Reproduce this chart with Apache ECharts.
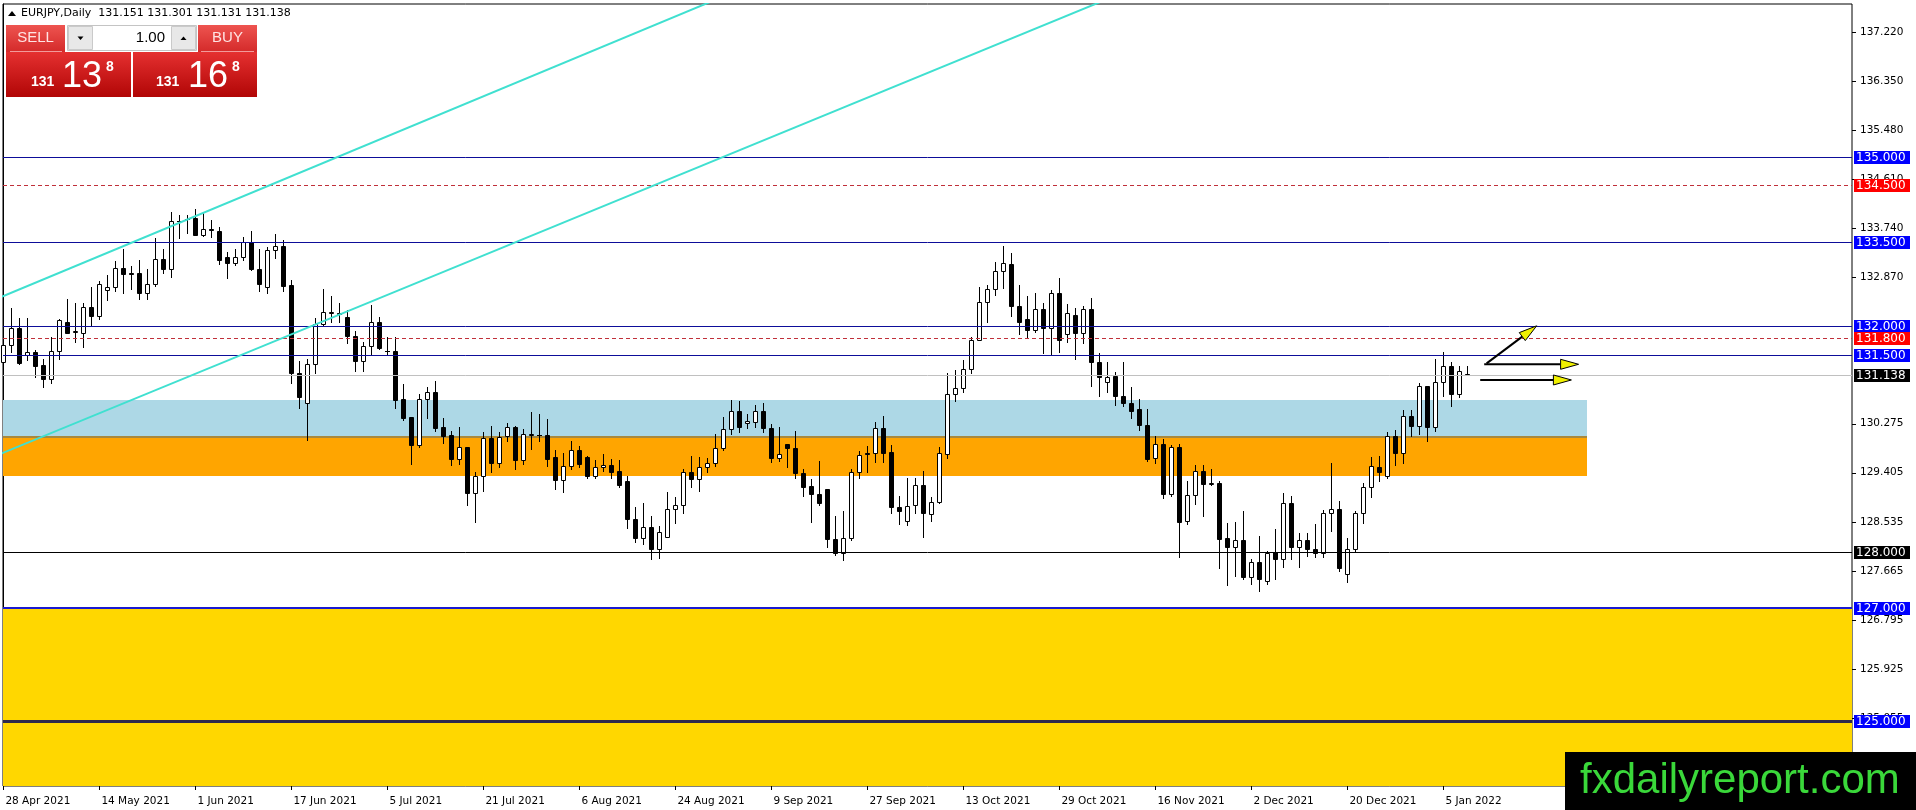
<!DOCTYPE html>
<html>
<head>
<meta charset="utf-8">
<title>EURJPY Daily</title>
<script src="https://cdn.jsdelivr.net/npm/echarts@6/dist/echarts.min.js"></script>
<style>
html,body{margin:0;padding:0;background:#fff;}
#chart{width:1916px;height:810px;}
</style>
</head>
<body>
<div id="chart"></div>
<script>
// bar index of each date label (one bar per weekday, 28 Apr 2021 = 0)
var dateTicks = [0, 12, 24, 36, 48, 60, 72, 84, 96, 108, 120, 132, 144, 156, 168, 180];
var dateLabels = ['28 Apr 2021', '14 May 2021', '1 Jun 2021', '17 Jun 2021', '5 Jul 2021', '21 Jul 2021',
  '6 Aug 2021', '24 Aug 2021', '9 Sep 2021', '27 Sep 2021', '13 Oct 2021', '29 Oct 2021',
  '16 Nov 2021', '2 Dec 2021', '20 Dec 2021', '5 Jan 2022'];
var priceTicks = [137.22, 136.35, 135.48, 134.61, 133.74, 132.87, 130.275, 129.405, 128.535,
  127.665, 126.795, 125.925, 125.055];

var opens = [131.36,131.67,131.97,131.50,131.54,131.32,131.06,131.57,132.08,131.90,
131.89,132.34,132.19,132.65,132.69,133.03,132.94,132.94,132.59,132.75,
133.19,133.02,133.86,133.90,133.92,133.62,133.72,133.70,133.23,133.12,
133.23,133.49,133.01,132.69,133.35,133.42,132.73,131.17,130.65,131.34,
132.05,132.24,132.23,132.16,131.83,131.39,131.66,132.07,131.57,131.57,
130.72,130.39,129.90,130.71,130.83,130.21,130.07,129.65,129.86,129.05,
129.35,130.02,129.57,130.05,130.21,129.63,130.08,130.08,130.07,129.68,
129.27,129.53,129.80,129.69,129.34,129.50,129.54,129.44,129.25,128.58,
128.24,128.45,128.05,128.27,128.76,128.83,129.41,129.29,129.50,129.57,
129.84,130.18,130.50,130.28,130.31,130.50,130.19,129.66,129.92,129.84,
129.40,129.17,129.03,129.11,128.23,127.99,128.24,129.42,129.76,129.75,
130.19,129.77,128.79,128.55,128.83,129.18,128.67,128.88,129.73,130.81,
130.90,131.24,131.76,132.44,132.66,132.98,133.10,132.37,132.13,131.93,
132.30,131.98,132.60,131.86,132.21,131.88,132.31,131.36,131.01,131.12,
130.77,130.65,130.53,130.26,129.66,129.91,129.02,129.87,128.55,129.01,
129.44,129.20,129.23,128.25,128.09,128.22,127.56,127.82,127.49,128.00,
127.87,128.86,128.09,128.21,128.06,127.99,128.70,128.76,127.61,128.05,
128.69,129.15,129.51,129.34,130.06,129.76,130.41,130.24,130.94,130.21,
131.02,131.30,130.81,131.151];

var highs = [131.80,132.32,132.14,132.14,131.59,131.42,131.81,132.13,132.48,132.42,
132.41,132.69,132.81,132.91,133.16,133.37,133.07,133.17,133.01,133.56,
133.37,134.02,133.98,133.98,134.09,134.03,133.89,133.76,133.32,133.38,
133.59,133.70,133.38,133.40,133.64,133.54,132.83,131.39,131.43,132.14,
132.66,132.54,132.41,132.29,131.92,131.72,132.38,132.16,131.81,131.81,
130.98,130.40,130.81,130.93,131.03,130.37,130.15,130.21,129.87,129.41,
130.12,130.23,130.13,130.29,130.23,130.18,130.49,130.45,130.35,129.81,
129.76,129.96,129.88,129.70,129.63,129.74,129.64,129.63,129.34,128.80,
128.87,128.64,128.46,129.07,128.97,129.47,129.70,129.68,129.66,130.10,
130.39,130.70,130.68,130.45,130.61,130.64,130.27,130.22,129.92,130.15,
129.47,129.30,129.61,129.11,128.64,128.72,129.48,129.79,129.88,130.30,
130.41,129.90,128.99,129.31,129.32,129.44,128.97,129.86,131.17,131.23,
131.40,131.82,132.70,132.73,133.14,133.43,133.31,132.73,132.54,132.60,
132.41,132.65,132.85,132.39,132.32,132.37,132.51,131.52,131.36,131.20,
131.36,130.93,130.71,130.54,130.05,130.00,129.89,129.91,129.26,129.54,
129.54,129.47,129.25,128.51,128.54,128.73,127.87,128.28,128.02,128.40,
129.05,128.99,128.33,128.34,128.50,128.74,129.58,128.91,128.24,128.72,
129.22,129.69,129.70,130.12,130.16,130.51,130.51,131.00,130.95,131.42,
131.55,131.37,131.30,131.301];

var lows = [131.33,131.55,131.33,131.40,131.10,130.93,131.00,131.43,131.88,131.73,
131.63,132.01,132.13,132.47,132.63,132.60,132.67,132.49,132.48,132.72,
132.95,132.88,133.56,133.65,133.62,133.60,133.58,133.11,132.85,133.09,
133.17,133.00,132.62,132.60,133.22,132.63,130.99,130.56,129.99,131.17,
132.01,132.07,132.08,131.71,131.21,131.21,131.49,131.60,131.51,130.56,
130.34,129.56,129.86,130.37,130.15,129.94,129.54,129.56,128.83,128.54,
129.09,129.42,129.51,129.97,129.47,129.56,129.83,129.96,129.53,129.11,
129.07,129.47,129.51,129.32,129.32,129.44,129.32,129.15,128.43,128.18,
128.15,127.87,127.89,128.26,128.52,128.70,129.16,129.09,129.42,129.53,
129.81,130.10,130.12,130.19,130.22,130.12,129.60,129.62,129.51,129.31,
129.00,128.54,128.83,128.08,127.94,127.85,128.22,129.32,129.41,129.60,
129.60,128.70,128.49,128.48,128.70,128.27,128.55,128.86,129.67,130.68,
130.83,131.18,131.75,132.08,132.56,132.68,132.19,131.86,131.81,131.90,
131.52,131.49,131.54,131.73,131.42,131.70,130.95,130.77,130.83,130.61,
130.58,130.38,130.16,129.62,129.58,128.96,129.00,127.92,128.49,128.85,
128.63,129.19,127.72,127.42,127.57,127.52,127.43,127.31,127.43,127.52,
127.73,127.87,127.74,127.93,127.92,127.92,128.38,127.67,127.46,128.02,
128.51,128.98,129.25,129.31,129.55,129.58,130.06,130.09,129.96,130.15,
130.77,130.58,130.75,131.131];

var closes = [131.67,131.97,131.35,131.55,131.30,131.06,131.57,132.11,131.89,131.91,
132.34,132.19,132.75,132.69,133.03,132.92,132.93,132.59,132.75,133.19,
133.02,133.86,133.87,133.91,133.62,133.72,133.71,133.17,133.12,133.23,
133.49,133.01,132.76,133.35,133.42,132.72,131.17,130.74,131.34,132.05,
132.25,132.25,132.22,131.83,131.39,131.66,132.07,131.61,131.56,130.69,
130.37,129.90,130.71,130.83,130.19,130.06,129.65,129.87,129.05,129.35,
130.02,129.57,130.03,130.21,129.63,130.09,130.09,130.07,129.65,129.27,
129.53,129.80,129.56,129.34,129.50,129.55,129.42,129.19,128.58,128.24,
128.45,128.05,128.36,128.76,128.83,129.41,129.29,129.50,129.57,129.84,
130.18,130.50,130.22,130.32,130.50,130.19,129.66,129.74,129.84,129.40,
129.15,129.02,128.87,128.23,127.99,128.24,129.42,129.72,129.73,130.19,
129.76,128.79,128.73,128.82,129.18,128.69,128.88,129.75,130.81,130.90,
131.24,131.76,132.44,132.66,132.98,133.12,132.37,132.08,131.93,132.30,
131.98,132.60,131.75,132.23,131.88,132.31,131.36,131.11,131.11,130.77,
130.65,130.50,130.26,129.65,129.91,129.02,129.87,128.54,129.01,129.44,
129.20,129.23,128.23,128.09,128.22,127.56,127.82,127.52,127.98,127.87,
128.86,128.09,128.22,128.06,127.99,128.70,128.76,127.71,128.05,128.69,
129.15,129.52,129.41,130.06,129.76,130.41,130.24,130.94,130.21,131.02,
131.30,130.81,131.21,131.138];

// horizontal price levels
var levelPrices = [135.0, 134.5, 133.5, 132.0, 131.8, 131.5, 131.138, 128.0, 127.0, 125.0];
var levelTexts = ['135.000', '134.500', '133.500', '132.000', '131.800', '131.500', '131.138', '128.000', '127.000', '125.000'];
var levelColors = ['#0d0d99', '#c0303a', '#0d0d99', '#0d0d99', '#c0303a', '#0d0d99', '#c0c0c0', '#000000', '#1a1ad0', '#2e2a4c'];
var levelWidths = [1, 1, 1, 1, 1, 1, 1, 1, 2, 3];
var levelDashed = [false, true, false, false, true, false, false, false, false, false];
var levelBoxColors = ['#0000ff', '#ff0000', '#0000ff', '#0000ff', '#ff0000', '#0000ff', '#000000', '#000000', '#0000ff', '#0000ff'];

// filled rectangles (bar index / price)
var zoneX0 = [-5, -5, -5];
var zoneX1 = [197.9, 197.9, 240];
var zoneTop = [130.695, 130.03, 127.0];
var zoneBottom = [130.03, 129.354, 120.0];
var zoneColors = ['#add8e6', '#ffa500', '#ffd700'];
var zoneEdge = [null, '#a8893e', null];

// channel lines
var trendStart = [[-0.5, 132.51], [-0.5, 129.732]];
var trendEnd = [[100, 138.44], [150, 138.503]];

// arrows
var arrowFrom = [[185.4, 131.345], [185.1, 131.328], [184.6, 131.05]];
var arrowTo = [[191.66, 132.01], [196.9, 131.328], [196.0, 131.05]];

var FONT = '"DejaVu Sans", Tahoma, sans-serif';

var candleData = opens.map(function (o, i) {
  return [i, o, closes[i], lows[i], highs[i]];
});

function renderCandle(params, api) {
  var x = api.value(0);
  var pO = api.coord([x, api.value(1)]);
  var pC = api.coord([x, api.value(2)]);
  var pL = api.coord([x, api.value(3)]);
  var pH = api.coord([x, api.value(4)]);
  var cx = Math.round(pO[0]);
  var up = api.value(2) >= api.value(1);
  var top = Math.round(Math.min(pO[1], pC[1]));
  var bot = Math.round(Math.max(pO[1], pC[1]));
  var kids = [{
    type: 'line',
    shape: { x1: cx + 0.5, y1: Math.round(pH[1]), x2: cx + 0.5, y2: Math.round(pL[1]) + 1 },
    style: { stroke: '#000', lineWidth: 1 }
  }];
  if (bot - top < 1) {
    kids.push({
      type: 'line',
      shape: { x1: cx - 2, y1: top + 0.5, x2: cx + 3, y2: top + 0.5 },
      style: { stroke: '#000', lineWidth: 1 }
    });
  } else {
    kids.push({
      type: 'rect',
      shape: { x: cx - 1.5, y: top + 0.5, width: 4, height: bot - top },
      style: { fill: up ? '#fff' : '#000', stroke: '#000', lineWidth: 1 }
    });
  }
  return { type: 'group', children: kids };
}

function renderZone(params, api) {
  var i = params.dataIndex;
  var cs = params.coordSys;
  var p0 = api.coord([api.value(0), api.value(2)]);
  var p1 = api.coord([api.value(1), api.value(3)]);
  var x0 = Math.max(cs.x, Math.min(p0[0], p1[0]));
  var x1 = Math.min(cs.x + cs.width, Math.max(p0[0], p1[0]));
  var y0 = Math.max(cs.y, Math.min(p0[1], p1[1]));
  var y1 = Math.min(cs.y + cs.height, Math.max(p0[1], p1[1]));
  var kids = [{
    type: 'rect',
    shape: { x: Math.round(x0), y: Math.round(y0), width: Math.round(x1) - Math.round(x0), height: Math.round(y1) - Math.round(y0) },
    style: { fill: zoneColors[i] }
  }];
  if (zoneEdge[i]) {
    kids.push({
      type: 'line',
      shape: { x1: Math.round(x0), y1: Math.round(y0), x2: Math.round(x1), y2: Math.round(y0) },
      style: { stroke: zoneEdge[i], lineWidth: 2 }
    });
  }
  return { type: 'group', children: kids };
}

function renderLevel(params, api) {
  var i = params.dataIndex;
  var cs = params.coordSys;
  var y = Math.round(api.coord([0, api.value(0)])[1]);
  var w = levelWidths[i];
  var yy = (w % 2) ? y + 0.5 : y;
  var right = cs.x + cs.width;
  return {
    type: 'group',
    children: [{
      type: 'line',
      shape: { x1: cs.x, y1: yy, x2: right, y2: yy },
      style: { stroke: levelColors[i], lineWidth: w, lineDash: levelDashed[i] ? [4, 3] : null }
    }, {
      type: 'rect',
      shape: { x: right + 2, y: y - 6, width: 56, height: 13 },
      style: { fill: levelBoxColors[i] }
    }, {
      type: 'text',
      style: {
        text: levelTexts[i], x: right + 4, y: y + 0.5, fill: '#fff', font: '12px ' + FONT,
        align: 'left', verticalAlign: 'middle', textAlign: 'left', textVerticalAlign: 'middle'
      }
    }]
  };
}

// short outward tick marks on the price scale
function renderPriceTick(params, api) {
  var cs = params.coordSys;
  var y = Math.round(api.coord([0, api.value(0)])[1]) + 0.5;
  var right = cs.x + cs.width;
  return {
    type: 'line',
    shape: { x1: right, y1: y, x2: right + 4, y2: y },
    style: { stroke: '#000', lineWidth: 1 }
  };
}

// short outward tick marks on the time scale
function renderDateTick(params, api) {
  var cs = params.coordSys;
  var x = Math.round(api.coord([api.value(0), 0])[0]) + 0.5;
  var bottom = cs.y + cs.height;
  return {
    type: 'line',
    shape: { x1: x, y1: bottom, x2: x, y2: bottom + 4 },
    style: { stroke: '#000', lineWidth: 1 }
  };
}

function renderArrow(params, api) {
  var p0 = api.coord([api.value(0), api.value(1)]);
  var p1 = api.coord([api.value(2), api.value(3)]);
  var dx = p1[0] - p0[0], dy = p1[1] - p0[1];
  var len = Math.sqrt(dx * dx + dy * dy);
  var ux = dx / len, uy = dy / len;
  var bx = p1[0] - ux * 18, by = p1[1] - uy * 18;
  var nx = -uy * 5, ny = ux * 5;
  return {
    type: 'group',
    children: [{
      type: 'line',
      shape: { x1: p0[0], y1: p0[1], x2: bx, y2: by },
      style: { stroke: '#000', lineWidth: 2 }
    }, {
      type: 'polygon',
      shape: { points: [[p1[0], p1[1]], [bx + nx, by + ny], [bx - nx, by - ny]] },
      style: { fill: '#f0f000', stroke: '#000', lineWidth: 1 }
    }]
  };
}

function txt(text, x, y, font, fill, align) {
  return {
    type: 'text', z: 100,
    style: {
      text: text, x: x, y: y, font: font, fill: fill,
      align: align || 'left', verticalAlign: 'middle',
      textAlign: align || 'left', textVerticalAlign: 'middle'
    }
  };
}

function grad(c0, c1) {
  return new echarts.graphic.LinearGradient(0, 0, 0, 1, [
    { offset: 0, color: c0 }, { offset: 1, color: c1 }
  ]);
}

var PANEL = '"Liberation Sans", Arial, sans-serif';

var graphics = [
  { type: 'polygon', z: 100, shape: { points: [[8, 16], [12, 11], [16, 16]] }, style: { fill: '#000' } },
  txt('EURJPY,Daily  131.151 131.301 131.131 131.138', 21, 13.5, '11px ' + FONT, '#000'),
  // sell / buy buttons
  { type: 'rect', z: 100, shape: { x: 6, y: 25, width: 59, height: 27 }, style: { fill: grad('#ee5450', '#d42a2a') } },
  { type: 'rect', z: 100, shape: { x: 198, y: 25, width: 59, height: 27 }, style: { fill: grad('#ee5450', '#d42a2a') } },
  { type: 'line', z: 101, shape: { x1: 10, y1: 51.5, x2: 62, y2: 51.5 }, style: { stroke: '#f29a9a', lineWidth: 1 } },
  { type: 'line', z: 101, shape: { x1: 201, y1: 51.5, x2: 254, y2: 51.5 }, style: { stroke: '#f29a9a', lineWidth: 1 } },
  txt('SELL', 35.5, 38, '15px ' + PANEL, '#ffe4e4', 'center'),
  txt('BUY', 227.5, 38, '15px ' + PANEL, '#ffe4e4', 'center'),
  // lot field
  { type: 'rect', z: 100, shape: { x: 67.5, y: 25.5, width: 129, height: 25 }, style: { fill: '#fff', stroke: '#c4c4c4', lineWidth: 1 } },
  { type: 'rect', z: 101, shape: { x: 68.5, y: 26.5, width: 24, height: 23 }, style: { fill: '#e8e8e8', stroke: '#cacaca', lineWidth: 1 } },
  { type: 'rect', z: 101, shape: { x: 171.5, y: 26.5, width: 24, height: 23 }, style: { fill: '#e8e8e8', stroke: '#cacaca', lineWidth: 1 } },
  { type: 'polygon', z: 102, shape: { points: [[77.5, 36.5], [83.5, 36.5], [80.5, 40]] }, style: { fill: '#000' } },
  { type: 'polygon', z: 102, shape: { points: [[180.5, 40], [186.5, 40], [183.5, 36.5]] }, style: { fill: '#000' } },
  txt('1.00', 165, 38, '15px ' + PANEL, '#000', 'right'),
  // quote boxes
  { type: 'rect', z: 100, shape: { x: 6, y: 52, width: 125, height: 45 }, style: { fill: grad('#e53030', '#b10606') } },
  { type: 'rect', z: 100, shape: { x: 133, y: 52, width: 124, height: 45 }, style: { fill: grad('#e53030', '#b10606') } },
  txt('131', 31, 82, 'bold 14px ' + PANEL, '#fff'),
  txt('13', 62, 77, '36px ' + PANEL, '#fff'),
  txt('8', 106, 67, 'bold 14px ' + PANEL, '#fff'),
  txt('131', 156, 82, 'bold 14px ' + PANEL, '#fff'),
  txt('16', 188, 77, '36px ' + PANEL, '#fff'),
  txt('8', 232, 67, 'bold 14px ' + PANEL, '#fff'),
  // watermark
  { type: 'rect', z: 100, shape: { x: 1565, y: 752, width: 351, height: 58 }, style: { fill: '#000' } },
  txt('fxdailyreport.com', 1580, 781, '42px ' + PANEL, '#3ad83a')
];

var chart = echarts.init(document.getElementById('chart'));

chart.setOption({
  animation: false,
  backgroundColor: '#fff',
  grid: { left: 3, right: 64, top: 4, bottom: 24, show: true, borderColor: '#000', borderWidth: 1, backgroundColor: '#fff' },
  xAxis: {
    type: 'value', min: -0.05, max: 231.075,
    axisLine: { show: false },
    splitLine: { show: false },
    axisTick: { show: false },
    axisLabel: {
      customValues: dateTicks,
      formatter: function (v) { var k = dateTicks.indexOf(Math.round(v)); return k >= 0 ? dateLabels[k] : ''; },
      align: 'left', padding: [4, 0, 0, 2], margin: 6,
      color: '#000', fontFamily: FONT, fontSize: 10.5
    }
  },
  yAxis: {
    type: 'value', position: 'right', min: 123.851, max: 137.716,
    axisLine: { show: true, lineStyle: { color: '#000' } },
    splitLine: { show: false },
    axisTick: { show: false },
    axisLabel: {
      customValues: priceTicks,
      formatter: function (v) { return v.toFixed(3); },
      margin: 8, color: '#000', fontFamily: FONT, fontSize: 10.5
    }
  },
  graphic: { elements: graphics },
  series: [{
    type: 'custom', name: 'zones', z: 1, silent: true,
    renderItem: renderZone,
    encode: { x: [0, 1], y: [2, 3] },
    data: zoneX0.map(function (x, i) { return [x, zoneX1[i], zoneTop[i], zoneBottom[i]]; })
  }, {
    type: 'custom', name: 'EURJPY', z: 3, silent: true,
    renderItem: renderCandle,
    encode: { x: 0, y: [1, 2, 3, 4] },
    data: candleData
  }, {
    type: 'custom', name: 'levels', z: 4, silent: true,
    renderItem: renderLevel,
    encode: { y: 0 },
    data: levelPrices.map(function (p) { return [p]; })
  }, {
    type: 'custom', name: 'price ticks', z: 2, silent: true,
    renderItem: renderPriceTick,
    encode: { y: 0 },
    data: priceTicks.map(function (p) { return [p]; })
  }, {
    type: 'custom', name: 'date ticks', z: 2, silent: true,
    renderItem: renderDateTick,
    encode: { x: 0 },
    data: dateTicks.map(function (t) { return [t]; })
  }, {
    type: 'line', name: 'channel 1', z: 4, silent: true, clip: true,
    showSymbol: false, symbol: 'none',
    lineStyle: { color: '#40e0d0', width: 2 },
    data: [trendStart[0], trendEnd[0]]
  }, {
    type: 'line', name: 'channel 2', z: 4, silent: true, clip: true,
    showSymbol: false, symbol: 'none',
    lineStyle: { color: '#40e0d0', width: 2 },
    data: [trendStart[1], trendEnd[1]]
  }, {
    type: 'custom', name: 'arrows', z: 5, silent: true,
    renderItem: renderArrow,
    encode: { x: [0, 2], y: [1, 3] },
    data: arrowFrom.map(function (f, i) { return [f[0], f[1], arrowTo[i][0], arrowTo[i][1]]; })
  }]
});
</script>
</body>
</html>
